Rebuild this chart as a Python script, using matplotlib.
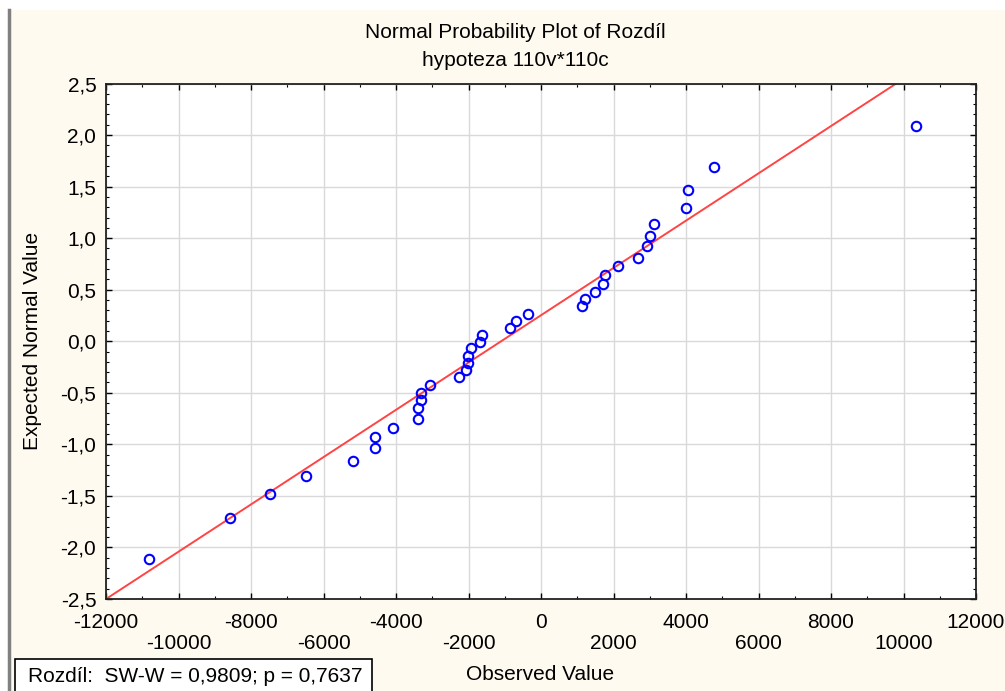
import numpy as np
import matplotlib
matplotlib.use("Agg")
import matplotlib.pyplot as plt
from matplotlib.ticker import MultipleLocator, FuncFormatter
from matplotlib.patches import Rectangle

plt.rcParams['font.family'] = ['Liberation Sans', 'DejaVu Sans']

# data
observed = [-10810, -8590, -7470, -6490, -5200, -4570, -4570, -4080, -3390, -3390,
            -3320, -3320, -3060, -2270, -2060, -2020, -2020, -1940, -1690, -1640,
            -860, -690, -350, 1120, 1210, 1500, 1700, 1770, 2120, 2670,
            2920, 3010, 3130, 4010, 4060, 4760, 10340]
expected = [-2.11, -1.71, -1.48, -1.31, -1.16, -1.04, -0.93, -0.84, -0.75, -0.65,
            -0.57, -0.50, -0.42, -0.35, -0.28, -0.21, -0.14, -0.07, -0.01, 0.06,
            0.13, 0.20, 0.26, 0.34, 0.41, 0.48, 0.56, 0.64, 0.73, 0.81,
            0.92, 1.02, 1.14, 1.29, 1.47, 1.69, 2.09]
line_mean = -1100
line_sd = 4360

title1 = "Normal Probability Plot of Rozdíl"
title2 = "hypoteza 110v*110c"
stats_text = "Rozdíl:  SW-W = 0,9809; p = 0,7637"

W, H = 1005, 691
fig = plt.figure(figsize=(W / 100, H / 100), dpi=100, facecolor="white")

# cream panel and window border
fig.patches.append(Rectangle((10 / W, 0), 1, 1 - 10 / H, transform=fig.transFigure,
                             facecolor="#fffaf0", edgecolor="none", zorder=-10))
fig.lines.append(plt.Line2D([9 / W, 9 / W], [0, 1 - 10 / H], transform=fig.transFigure,
                            color="#808080", lw=2.5, zorder=-5))

ax = fig.add_axes([106 / W, 92 / H, 870 / W, 515.5 / H])
ax.set_facecolor("white")

xlim = (-12000, 12000)
xs = np.array(xlim)
ax.plot(xs, (xs - line_mean) / line_sd, color="#ff4444", lw=1.4, zorder=2)
ax.plot(observed, expected, linestyle="none", marker="o", ms=6.8, mfc="none",
        mec="#0000ff", mew=1.5, zorder=3)

ax.set_xlim(*xlim)
ax.set_ylim(-2.5, 2.5)
ax.xaxis.set_major_locator(MultipleLocator(2000))
ax.xaxis.set_minor_locator(MultipleLocator(1000))
ax.yaxis.set_major_locator(MultipleLocator(0.5))
ax.yaxis.set_minor_locator(MultipleLocator(0.1))


def xfmt(v, pos):
    k = int(round(v / 2000))
    s = str(int(round(v)))
    return s if k % 2 == 0 else "\n" + s


def yfmt(v, pos):
    s = f"{v:.1f}"
    if s == "-0.0":
        s = "0.0"
    return s.replace(".", ",")


ax.xaxis.set_major_formatter(FuncFormatter(xfmt))
ax.yaxis.set_major_formatter(FuncFormatter(yfmt))

ax.grid(True, which="major", color="#d9d9d9", lw=1.0)
ax.set_axisbelow(True)
ax.tick_params(which="both", direction="in", top=True, right=True, labelsize=15,
               colors="black")
ax.tick_params(which="major", length=4, width=1)
ax.tick_params(which="minor", length=2.5, width=0.8)
ax.tick_params(axis="x", pad=10)
ax.tick_params(axis="y", pad=7)
for lbl in ax.get_xticklabels():
    lbl.set_linespacing(1.15)
for sp in ax.spines.values():
    sp.set_linewidth(1.3)
    sp.set_color("#222222")

fig.text(515 / W, 1 - 33 / H, title1, ha="center", va="center", fontsize=15)
fig.text(515 / W, 1 - 60 / H, title2, ha="center", va="center", fontsize=15)
fig.text(540 / W, 1 - 675 / H, "Observed Value", ha="center", va="center", fontsize=15)
fig.text(33 / W, 1 - 341 / H, "Expected Normal Value", ha="center", va="center",
         rotation=90, fontsize=15)

fig.patches.append(Rectangle((15 / W, -5 / H), 357 / W, (691 - 659 + 5) / H,
                             transform=fig.transFigure, facecolor="white",
                             edgecolor="black", lw=1.2, zorder=1))
fig.text(28 / W, 1 - 677 / H, stats_text, ha="left", va="center", fontsize=15)

fig.savefig("out.png", dpi=100, facecolor=fig.get_facecolor())
